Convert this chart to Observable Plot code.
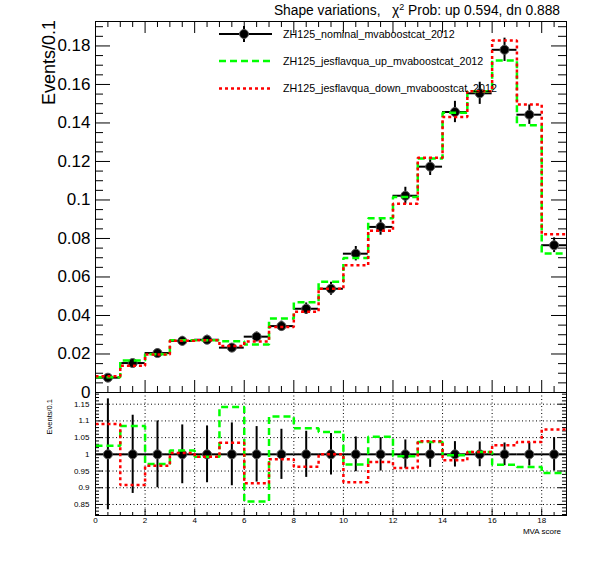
<!DOCTYPE html>
<html><head><meta charset="utf-8">
<script src="https://cdn.jsdelivr.net/npm/d3@7"></script>
<script src="https://cdn.jsdelivr.net/npm/@observablehq/plot@0.6"></script>
<style>
body{margin:0;background:#fff;font-family:"Liberation Sans",Arial,Helvetica,sans-serif}
#wrap{position:relative;width:596px;height:572px;overflow:hidden;background:#fff}
#wrap > svg{position:absolute;left:0;overflow:visible}
</style></head><body><div id="wrap"></div>
<script>
// ---- data ----
const binLow = [0,1,2,3,4,5,6,7,8,9,10,11,12,13,14,15,16,17,18];
const binWidth = 1;
const nominal = [0.0077,0.0153,0.0205,0.0268,0.0274,0.0233,0.0290,0.0345,0.0435,0.0539,0.0721,0.0860,0.1022,0.1173,0.1457,0.1554,0.1780,0.1443,0.0765];
const upVals  = [0.0079,0.0166,0.0199,0.0271,0.0272,0.0266,0.0249,0.0384,0.0469,0.0575,0.0699,0.0905,0.1016,0.1216,0.1453,0.1565,0.1725,0.1388,0.0722];
const downVals= [0.0084,0.0139,0.0198,0.0269,0.0272,0.0241,0.0265,0.0340,0.0419,0.0539,0.0661,0.0840,0.0980,0.1219,0.1431,0.1565,0.1828,0.1496,0.0822];
const relErr  = [0.166,0.117,0.100,0.088,0.085,0.094,0.083,0.075,0.069,0.062,0.052,0.050,0.043,0.039,0.038,0.037,0.034,0.035,0.050];
const yTicksTop = [0,0.02,0.04,0.06,0.08,0.10,0.12,0.14,0.16,0.18];
const yTicksRatio = [0.85,0.90,0.95,1.00,1.05,1.10,1.15];
const xTickLabels = [0,2,4,6,8,10,12,14,16,18];
const legendNames = ["ZH125_nominal_mvaboostcat_2012","ZH125_jesflavqua_up_mvaboostcat_2012","ZH125_jesflavqua_down_mvaboostcat_2012"];
const titleText = "Shape variations,   \u03C7";
const titleRest = " Prob: up 0.594, dn 0.888";

// ---- derived tables ----
const bins = binLow.map((lo,i)=>({lo, hi: lo+binWidth, c: lo+binWidth/2, nom: nominal[i],
  err: nominal[i]*relErr[i], rel: relErr[i], up: upVals[i], dn: downVals[i],
  rUp: upVals[i]/nominal[i], rDn: downVals[i]/nominal[i]}));
const step = key => bins.map(b=>({x:b.lo, y:b[key]})).concat([{x: bins[bins.length-1].hi, y: bins[bins.length-1][key]}]);

const GREEN = "#00ff00", RED = "#ff0000";
const fmt = d => String(+d.toFixed(2));
const ML = 95, MR = 30, WIDTH = 596, FW = WIDTH - ML - MR;
const xDomain = [0, 19];
const upStyle = {stroke: GREEN, strokeWidth: 2.5, strokeDasharray:"7,4", strokeLinecap:"butt", strokeLinejoin:"miter"};
const dnStyle = {stroke: RED, strokeWidth: 2.5, strokeDasharray:"3,3", strokeLinecap:"butt", strokeLinejoin:"miter"};

const minorX = d3.range(1, 38).map(i=>i*0.5).filter(v => v % 2 !== 0);
function ticksY(vals, len){ // left and right inner ticks
  return [Plot.ruleY(vals,{y:d=>d, insetRight: FW-len, stroke:"black"}),
          Plot.ruleY(vals,{y:d=>d, insetLeft: FW-len, stroke:"black"})];
}
function ticksX(vals, lenB, lenT, H){
  const m = [];
  if (lenB) m.push(Plot.ruleX(vals,{x:d=>d, insetTop: H-lenB, stroke:"black"}));
  if (lenT) m.push(Plot.ruleX(vals,{x:d=>d, insetBottom: H-lenT, stroke:"black"}));
  return m;
}

// ---- upper panel ----
const TOP_H = 412, TOP_MT = 21, TOP_MB = 20, TOP_FH = TOP_H - TOP_MT - TOP_MB;
const minorYTop = d3.range(1, 39).filter(i=>i%4!==0).map(i=>i*0.005);
const upperPlot = Plot.plot({
  width: WIDTH, height: TOP_H, marginLeft: ML, marginRight: MR, marginTop: TOP_MT, marginBottom: TOP_MB,
  style: {fontFamily: '"Liberation Sans",Arial,sans-serif', background: "transparent", overflow: "visible"},
  x: {domain: xDomain},
  y: {domain: [0, 0.1927]},
  marks: [
    Plot.axisY({ticks: yTicksTop, tickSize: 0, tickPadding: 5, tickFormat: fmt, fontSize: 17, label: null}),
    Plot.axisX({ticks: [], tickSize: 0, label: null}),
    ...ticksY(yTicksTop, 15), ...ticksY(minorYTop, 8),
    ...ticksX(xTickLabels, 12, 12, TOP_FH), ...ticksX(minorX, 6, 6, TOP_FH),
    Plot.ruleY(bins, {y:"nom", x1:"lo", x2:"hi", stroke:"black", strokeWidth: 2}),
    Plot.ruleX(bins, {x:"c", y1: d=>d.nom-d.err, y2: d=>d.nom+d.err, stroke:"black", strokeWidth: 2}),
    Plot.dot(bins, {x:"c", y:"nom", r: 4.5, fill:"black", stroke:"#555", strokeWidth: 1}),
    Plot.line(step("up"), {x:"x", y:"y", curve:"step-after", ...upStyle}),
    Plot.line(step("dn"), {x:"x", y:"y", curve:"step-after", ...dnStyle}),
    Plot.frame({stroke:"black"})
  ]
});
upperPlot.style.top = "0px";

// ---- lower (ratio) panel ----
const BOT_TOP = 380, BOT_H = 192, BOT_MT = 12, BOT_MB = 57, BOT_FH = BOT_H - BOT_MT - BOT_MB;
const minorYRatio = d3.range(82, 119).filter(i=>i%5!==0).map(i=>i/100);
const lowerPlot = Plot.plot({
  width: WIDTH, height: BOT_H, marginLeft: ML, marginRight: MR, marginTop: BOT_MT, marginBottom: BOT_MB,
  style: {fontFamily: '"Liberation Sans",Arial,sans-serif', background: "transparent"},
  x: {domain: xDomain},
  y: {domain: [0.817, 1.185]},
  marks: [
    Plot.gridY(yTicksRatio, {stroke:"black", strokeOpacity: 1, strokeDasharray:"1,2.5"}),
    Plot.gridX(xTickLabels.filter(v=>v>0), {stroke:"black", strokeOpacity: 1, strokeDasharray:"1,2.5"}),
    Plot.axisY({ticks: yTicksRatio, tickSize: 0, tickPadding: 6, tickFormat: fmt, fontSize: 8, label: null}),
    Plot.axisX({ticks: xTickLabels, tickSize: 0, tickPadding: 2, tickFormat: d=>String(d), fontSize: 8, label: null}),
    ...ticksY(yTicksRatio, 8), ...ticksY(minorYRatio, 4),
    ...ticksX(xTickLabels, 6, 0, BOT_FH), ...ticksX(minorX, 3, 0, BOT_FH),
    Plot.ruleY(bins, {y: () => 1, x1:"lo", x2:"hi", stroke:"black", strokeWidth: 2}),
    Plot.ruleX(bins, {x:"c", y1: d=>1-d.rel, y2: d=>1+d.rel, stroke:"black", strokeWidth: 2}),
    Plot.dot(bins, {x:"c", y: () => 1, r: 4.5, fill:"black", stroke:"#555", strokeWidth: 1}),
    Plot.line(step("rUp"), {x:"x", y:"y", curve:"step-after", ...upStyle}),
    Plot.line(step("rDn"), {x:"x", y:"y", curve:"step-after", ...dnStyle}),
    Plot.frame({stroke:"black"})
  ]
});
lowerPlot.style.top = BOT_TOP + "px";

const wrap = document.getElementById("wrap");
wrap.appendChild(lowerPlot);
wrap.appendChild(upperPlot);

// ---- overlay: title, axis titles, legend ----
const ov = d3.select(wrap).append("svg").attr("width", WIDTH).attr("height", 572)
  .style("top","0px").style("font-family",'"Liberation Sans",Arial,sans-serif');
const t = ov.append("text").attr("x", 560).attr("y", 15).attr("text-anchor","end")
  .attr("font-size", 13.8).style("white-space","pre");
t.append("tspan").text(titleText);
t.append("tspan").attr("dy", -5).attr("font-size", 9).text("2");
t.append("tspan").attr("dy", 5).text(titleRest);

ov.append("text").attr("transform","translate(55,20) rotate(-90)").attr("text-anchor","end")
  .attr("font-size", 18).text("Events/0.1");
ov.append("text").attr("transform","translate(52,399) rotate(-90)").attr("text-anchor","end")
  .attr("font-size", 7.5).text("Events/0.1");
ov.append("text").attr("x", 561).attr("y", 534).attr("text-anchor","end")
  .attr("font-size", 8).text("MVA score");

const leg = ov.append("g");
const rows = [34, 61, 88.5];
leg.append("line").attr("x1",219).attr("x2",272).attr("y1",rows[0]).attr("y2",rows[0]).attr("stroke","black").attr("stroke-width",2);
leg.append("line").attr("x1",244).attr("x2",244).attr("y1",rows[0]-8).attr("y2",rows[0]+8).attr("stroke","black").attr("stroke-width",2);
leg.append("circle").attr("cx",244).attr("cy",rows[0]).attr("r",4.5).attr("fill","black").attr("stroke","#555").attr("stroke-width",1);
leg.append("line").attr("x1",219).attr("x2",272).attr("y1",rows[1]).attr("y2",rows[1]).attr("stroke",GREEN).attr("stroke-width",2.5).attr("stroke-dasharray","7,4");
leg.append("line").attr("x1",219).attr("x2",272).attr("y1",rows[2]).attr("y2",rows[2]).attr("stroke",RED).attr("stroke-width",2.5).attr("stroke-dasharray","3,3");
legendNames.forEach((n,i)=>{
  leg.append("text").attr("x",283).attr("y",rows[i]).attr("dy","0.35em").attr("font-size",10.7).text(n);
});
</script>
</body></html>
